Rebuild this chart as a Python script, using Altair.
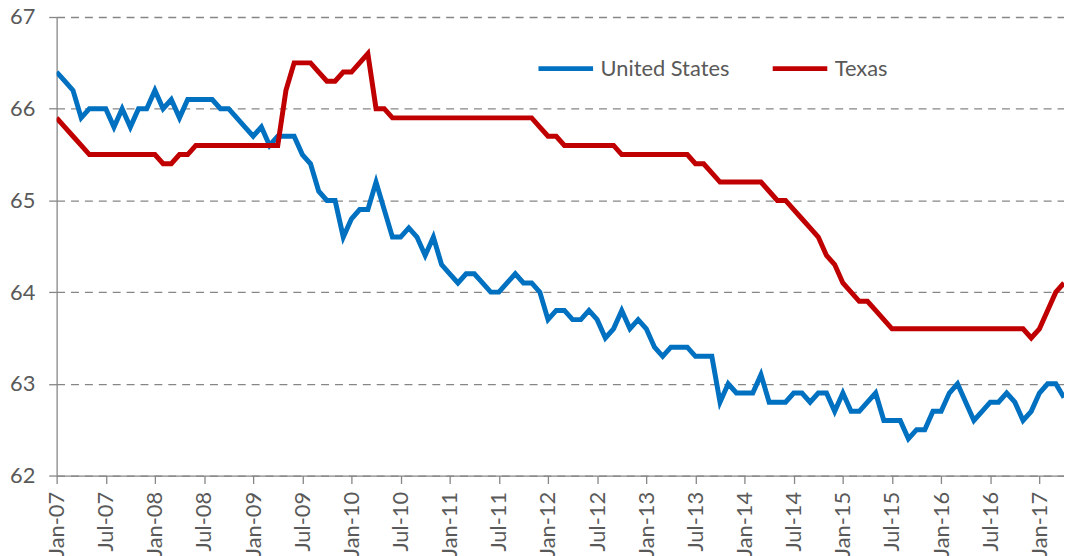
import json
import altair as alt
import pandas as pd

FONT = "Lato"

tick_labels = [
    "Jan-07", "Jul-07", "Jan-08", "Jul-08", "Jan-09", "Jul-09", "Jan-10", "Jul-10",
    "Jan-11", "Jul-11", "Jan-12", "Jul-12", "Jan-13", "Jul-13", "Jan-14", "Jul-14",
    "Jan-15", "Jul-15", "Jan-16", "Jul-16", "Jan-17",
]

series_names = ["United States", "Texas"]
series_colors = ["#0070C0", "#C00000"]

# Monthly values, Jan-07 onwards
us = [
    66.4, 66.3, 66.2, 65.9, 66.0, 66.0, 66.0, 65.8, 66.0, 65.8, 66.0, 66.0,
    66.2, 66.0, 66.1, 65.9, 66.1, 66.1, 66.1, 66.1, 66.0, 66.0, 65.9, 65.8,
    65.7, 65.8, 65.6, 65.7, 65.7, 65.7, 65.5, 65.4, 65.1, 65.0, 65.0, 64.6,
    64.8, 64.9, 64.9, 65.2, 64.9, 64.6, 64.6, 64.7, 64.6, 64.4, 64.6, 64.3,
    64.2, 64.1, 64.2, 64.2, 64.1, 64.0, 64.0, 64.1, 64.2, 64.1, 64.1, 64.0,
    63.7, 63.8, 63.8, 63.7, 63.7, 63.8, 63.7, 63.5, 63.6, 63.8, 63.6, 63.7,
    63.6, 63.4, 63.3, 63.4, 63.4, 63.4, 63.3, 63.3, 63.3, 62.8, 63.0, 62.9,
    62.9, 62.9, 63.1, 62.8, 62.8, 62.8, 62.9, 62.9, 62.8, 62.9, 62.9, 62.7,
    62.9, 62.7, 62.7, 62.8, 62.9, 62.6, 62.6, 62.6, 62.4, 62.5, 62.5, 62.7,
    62.7, 62.9, 63.0, 62.8, 62.6, 62.7, 62.8, 62.8, 62.9, 62.8, 62.6, 62.7,
    62.9, 63.0, 63.0, 62.85,
]

texas = [
    65.9, 65.8, 65.7, 65.6, 65.5, 65.5, 65.5, 65.5, 65.5, 65.5, 65.5, 65.5,
    65.5, 65.4, 65.4, 65.5, 65.5, 65.6, 65.6, 65.6, 65.6, 65.6, 65.6, 65.6,
    65.6, 65.6, 65.6, 65.6, 66.2, 66.5, 66.5, 66.5, 66.4, 66.3, 66.3, 66.4,
    66.4, 66.5, 66.6, 66.0, 66.0, 65.9, 65.9, 65.9, 65.9, 65.9, 65.9, 65.9,
    65.9, 65.9, 65.9, 65.9, 65.9, 65.9, 65.9, 65.9, 65.9, 65.9, 65.9, 65.8,
    65.7, 65.7, 65.6, 65.6, 65.6, 65.6, 65.6, 65.6, 65.6, 65.5, 65.5, 65.5,
    65.5, 65.5, 65.5, 65.5, 65.5, 65.5, 65.4, 65.4, 65.3, 65.2, 65.2, 65.2,
    65.2, 65.2, 65.2, 65.1, 65.0, 65.0, 64.9, 64.8, 64.7, 64.6, 64.4, 64.3,
    64.1, 64.0, 63.9, 63.9, 63.8, 63.7, 63.6, 63.6, 63.6, 63.6, 63.6, 63.6,
    63.6, 63.6, 63.6, 63.6, 63.6, 63.6, 63.6, 63.6, 63.6, 63.6, 63.6, 63.5,
    63.6, 63.8, 64.0, 64.1,
]

rows = []
for name, vals in zip(series_names, [us, texas]):
    for i, v in enumerate(vals):
        rows.append({"month": i, "value": v, "series": name})
df = pd.DataFrame(rows)

label_expr = json.dumps(tick_labels) + "[round(datum.value / 6)]"

x = alt.X(
    "month:Q",
    scale=alt.Scale(domain=[0, 123], nice=False, zero=False),
    axis=alt.Axis(
        values=list(range(0, 121, 6)),
        labelExpr=label_expr,
        title=None,
        grid=False,
        labelAngle=270,
        labelAlign="right",
        labelBaseline="middle",
        labelPadding=8,
        tickSize=8,
        labelOverlap=False,
        labelFlush=False,
        labelBound=False,
    ),
)
y = alt.Y(
    "value:Q",
    scale=alt.Scale(domain=[62, 67], nice=False, zero=False),
    axis=alt.Axis(
        values=[62, 63, 64, 65, 66, 67],
        format="d",
        title=None,
        grid=True,
        gridDash=[8, 6],
        gridColor="#868686",
        gridWidth=1.3,
        tickSize=8,
        labelPadding=14,
    ),
)
color = alt.Color(
    "series:N",
    scale=alt.Scale(domain=series_names, range=series_colors),
    legend=alt.Legend(
        title=None,
        orient="none",
        legendX=483,
        legendY=22,
        direction="horizontal",
        symbolType="stroke",
        symbolSize=3025,
        symbolStrokeWidth=5,
        labelOffset=5,
        columnPadding=33,
        labelFontSize=22,
        labelColor="#595959",
        labelFont=FONT,
    ),
)

base = alt.Chart(df).mark_line(strokeWidth=5, clip=True).encode(x=x, y=y, color=color)

chart = alt.layer(
    base.transform_filter(alt.datum.series == "United States"),
    base.transform_filter(alt.datum.series == "Texas"),
).properties(
    width=1015,
    height=462,
    autosize=alt.AutoSizeParams(type="none"),
    padding={"left": 49, "top": 7, "right": 0, "bottom": 79},
    title=alt.TitleParams(
        "(Percent)",
        fontSize=24,
        fontWeight="bold",
        color="#8497B0",
        font=FONT,
        anchor="middle",
        offset=2,
        dx=-39,
    ),
    background="white",
).configure_view(
    stroke=None
).configure_axis(
    domainColor="#868686",
    domainWidth=1.3,
    tickColor="#868686",
    tickWidth=1.3,
    labelColor="#595959",
    labelFontSize=22,
    labelFont=FONT,
)

chart.save("out.html", embed_options={"renderer": "svg", "actions": False})
